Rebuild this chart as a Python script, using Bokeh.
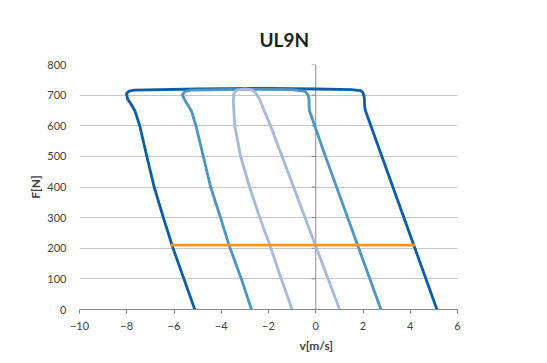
from bokeh.plotting import figure
from bokeh.models import Range1d, Span, Legend, LegendItem, Title, FixedTicker, BoxAnnotation
from bokeh.embed import file_html
from bokeh.resources import INLINE

# ---- data ----
v_300 = [-5.12, -5.58, -6.04, -6.45, -6.84, -7.15, -7.45, -7.66, -7.83, -7.97, -8.01, -7.90, -7.70,
         -5.0, -2.0, 0.0, 1.5, 1.9, 2.0, 2.05, 2.07, 2.1, 5.13]
F_300 = [0, 100, 200, 300, 400, 500, 600, 650, 672, 688, 705, 713, 716,
         720, 722, 720, 718, 715, 708, 695, 665, 650, 0]

v_160 = [-2.72, -3.15, -3.67, -4.03, -4.45, -4.76, -5.07, -5.27, -5.50, -5.65, -5.55, -5.30,
         -3.0, -1.0, -0.45, -0.32, -0.29, -0.27, 0.41, 2.76]
F_160 = [0, 100, 210, 300, 400, 500, 600, 650, 678, 700, 711, 716,
         719, 718, 712, 700, 688, 650, 500, 0]

v_60 = [-1.00, -1.46, -1.94, -2.37, -2.80, -3.18, -3.43, -3.49, -3.47, -3.35, -3.00, -2.70,
        -2.55, -2.40, -1.91, 1.01]
F_60 = [0, 100, 210, 300, 400, 500, 600, 680, 705, 716, 720, 717,
        708, 690, 599, 0]

v_fc = [-6.1, 4.15]
F_fc = [210, 210]

series_names = ["300Vdc", "160Vdc", "60Vdc", "Fc"]
x_ticks = [-10, -8, -6, -4, -2, 0, 2, 4, 6]
y_ticks = [0, 100, 200, 300, 400, 500, 600, 700, 800]

colors = ["#0b5ea6", "#4b95c8", "#a5badb", "#f7941e"]
FONT = "Lato"
TXT = "#404040"

p = figure(width=547, height=363, output_backend="svg", toolbar_location=None,
           x_range=Range1d(-10, 6), y_range=Range1d(0, 800),
           min_border_left=79, min_border_right=90, min_border_top=64, min_border_bottom=54)
p.outline_line_color = None
p.background_fill_color = "white"
p.border_fill_color = "white"

# chart-area border
p.add_layout(BoxAnnotation(left=11, right=700, top=10, bottom=700,
                           left_units="canvas", right_units="canvas",
                           top_units="canvas", bottom_units="canvas",
                           fill_alpha=0, line_color="#d4d4d4", line_width=1, level="underlay"))

# grid
p.xgrid.grid_line_color = None
p.ygrid.ticker = FixedTicker(ticks=y_ticks)
p.ygrid.grid_line_color = "#c6c6c6"
p.ygrid.grid_line_width = 1

# vertical axis line at x = 0
p.add_layout(Span(location=0, dimension="height", line_color="#8a8a8a", line_width=1, level="underlay"))
p.segment(x0=[-0.17] * len(y_ticks), y0=y_ticks, x1=[0] * len(y_ticks), y1=y_ticks,
          line_color="#8a8a8a", line_width=1)

# axes
xa = p.xaxis[0]
xa.ticker = FixedTicker(ticks=x_ticks)
xa.axis_line_color = "#8a8a8a"
xa.major_tick_line_color = "#8a8a8a"
xa.major_tick_out = 4
xa.major_tick_in = 0
xa.minor_tick_line_color = None
xa.major_label_standoff = 8
xa.major_label_text_font = FONT
xa.major_label_text_font_size = "11px"
xa.major_label_text_color = TXT

ya = p.yaxis[0]
ya.ticker = FixedTicker(ticks=y_ticks)
ya.axis_line_color = None
ya.major_tick_line_color = None
ya.minor_tick_line_color = None
ya.major_tick_out = 0
ya.major_tick_in = 0
ya.major_label_standoff = 13
ya.major_label_text_font = FONT
ya.major_label_text_font_size = "11px"
ya.major_label_text_color = TXT
ya.axis_label = "F[N]"
ya.axis_label_text_font = FONT
ya.axis_label_text_font_size = "12px"
ya.axis_label_text_font_style = "bold"
ya.axis_label_text_color = TXT
ya.axis_label_standoff = 1

# titles
p.add_layout(Title(text="UL9N", align="left", offset=180, text_font=FONT, text_font_size="19px",
                   text_font_style="bold", text_color="#1f1f1f", standoff=27), "above")
p.add_layout(Title(text="v[m/s]", align="left", offset=220, text_font=FONT, text_font_size="12px",
                   text_font_style="bold", text_color=TXT, standoff=6), "below")

# series
xs = [v_300, v_160, v_60, v_fc]
ys = [F_300, F_160, F_60, F_fc]
renderers = []
for x, y, c in zip(xs, ys, colors):
    r = p.line(x, y, line_color=c, line_width=2.8, line_join="round", line_cap="round")
    renderers.append(r)

legend = Legend(items=[LegendItem(label=n, renderers=[r]) for n, r in zip(series_names, renderers)],
                location=(401, 57), orientation="vertical", glyph_width=25, glyph_height=16,
                label_height=16, spacing=7, padding=0, margin=0, label_standoff=3,
                border_line_color=None, background_fill_alpha=0,
                label_text_font=FONT, label_text_font_size="11px", label_text_color=TXT)
p.add_layout(legend)

open("out.html", "w").write(file_html(p, INLINE))
